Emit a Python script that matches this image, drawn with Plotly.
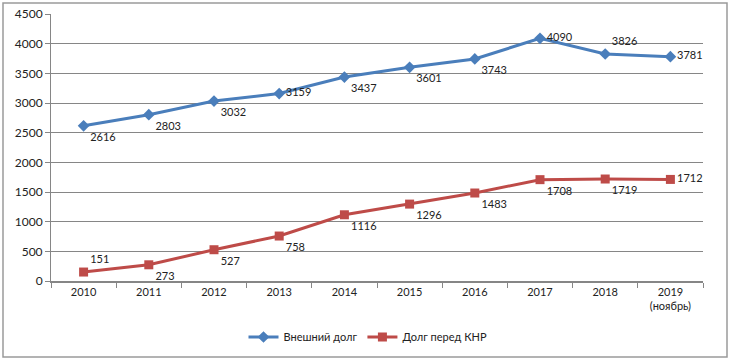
import plotly.graph_objects as go

years = ["2010", "2011", "2012", "2013", "2014", "2015", "2016", "2017", "2018", "2019<br>(ноябрь)"]
external_debt = [2616, 2803, 3032, 3159, 3437, 3601, 3743, 4090, 3826, 3781]
china_debt = [151, 273, 527, 758, 1116, 1296, 1483, 1708, 1719, 1712]
y_ticks = [0, 500, 1000, 1500, 2000, 2500, 3000, 3500, 4000, 4500]

blue_pos = ["bottom right", "bottom right", "bottom right", "middle right", "bottom right",
            "bottom right", "bottom right", "middle right", "top right", "middle right"]
red_pos = ["top right", "bottom right", "bottom right", "bottom right", "bottom right",
           "bottom right", "bottom right", "bottom right", "bottom right", "middle right"]

font = "Lato, 'Liberation Sans', sans-serif"

fig = go.Figure()
fig.add_trace(go.Scatter(
    x=years, y=external_debt, name="Внешний долг", mode="lines+markers+text",
    line=dict(color="#4A7EBB", width=3),
    marker=dict(symbol="diamond", size=9, color="#4A7EBB"),
    text=[str(v) for v in external_debt], textposition=blue_pos,
    textfont=dict(size=11, color="#222222", family=font),
))
fig.add_trace(go.Scatter(
    x=years, y=china_debt, name="Долг перед КНР", mode="lines+markers+text",
    line=dict(color="#BE4B48", width=3),
    marker=dict(symbol="square", size=9, color="#BE4B48"),
    text=[str(v) for v in china_debt], textposition=red_pos,
    textfont=dict(size=11, color="#222222", family=font),
))

W, H = 730, 361
L, R, T, B = 51, 27, 14, 80
pw, ph = W - L - R, H - T - B

fig.update_layout(
    template="none",
    width=W, height=H,
    margin=dict(l=L, r=R, t=T, b=B, autoexpand=False),
    paper_bgcolor="white", plot_bgcolor="white",
    font=dict(family=font, size=11, color="#222222"),
    showlegend=True,
    legend=dict(orientation="h", x=(368 - L) / pw, xanchor="center", y=-56 / ph, yanchor="middle",
                font=dict(size=11), bgcolor="rgba(0,0,0,0)", itemwidth=30),
    shapes=[dict(type="rect", xref="paper", yref="paper",
                 x0=-(L - 3) / pw, x1=1 + (R - 3) / pw,
                 y0=-(B - 4) / ph, y1=1 + (T - 3) / ph,
                 line=dict(color="#9a9a9a", width=1.5), fillcolor="rgba(0,0,0,0)", layer="below")],
)
fig.update_xaxes(type="category", range=[-0.5, 9.5], tickson="boundaries",
                 ticks="outside", ticklen=5, tickcolor="#868686", automargin=False,
                 showline=True, linecolor="#868686", linewidth=1.5,
                 showgrid=False, tickfont=dict(size=11))
fig.update_yaxes(range=[0, 4500], tickvals=y_ticks, ticks="outside", ticklen=5, automargin=False,
                 tickcolor="#868686", showline=True, linecolor="#868686",
                 gridcolor="#868686", gridwidth=1, zeroline=False,
                 tickfont=dict(size=12))

fig.write_html("out.html", config={"displayModeBar": False},
               post_script="document.body.style.margin='0px';document.body.style.padding='0px';")
